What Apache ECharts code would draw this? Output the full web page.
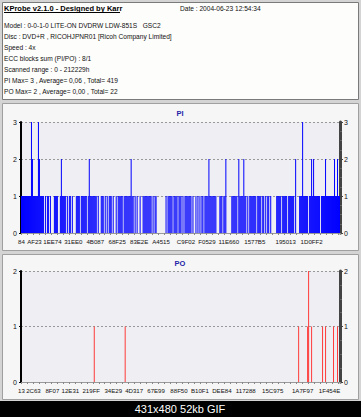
<!DOCTYPE html>
<html><head><meta charset="utf-8">
<script src="https://cdn.jsdelivr.net/npm/echarts@6/dist/echarts.min.js"></script>
<style>html,body{margin:0;padding:0;background:#d4d4d4}#c{width:361px;height:417px}</style>
</head><body><div id="c"></div><script>
// ---- data ----
const headerTitle = 'KProbe v2.1.0 - Designed by Karr';
const headerDate = 'Date : 2004-06-23 12:54:34';
const headerLines = [
  'Model : 0-0-1-0 LITE-ON DVDRW LDW-851S\u00a0\u00a0\u00a0GSC2',
  'Disc : DVD+R , RICOHJPNR01 [Ricoh Company Limited]',
  'Speed : 4x',
  'ECC blocks sum (PI/PO) : 8/1',
  'Scanned range : 0 - 212229h',
  'PI Max= 3 , Average= 0,06 , Total= 419',
  'PO Max= 2 , Average= 0,00 , Total= 22'
];
const caption = '431x480 52kb GIF';

const piValues = [
  1,1,1,1,1,1,1,1,1,1, 3,2,1,1,1,1,1,3,2,1, 1,1,1,0,1,0,1,1,0,1, 0,0,0,1,1,1,1,0,0,1,
  2,1,1,1,1,0,1,0,1,1, 0,1,0,0,0,1,1,1,1,0, 1,1,1,1,1,1,0,1,2,1, 1,1,1,1,1,1,0,1,0,0,
  1,1,1,0,1,0,1,0,1,1, 1,0,1,0,0,1,0,1,1,1, 1,1,0,1,1,1,1,1,1,1, 2,1,1,0,1,0,1,0,0,1,
  0,0,1,1,1,1,1,1,1,1, 1,0,1,0,1,1,0,0,0,0, 0,0,0,0,0,1,0,1,1,1, 1,1,0,1,1,1,1,0,1,1,
  1,0,1,0,1,1,1,1,1,1, 1,0,1,0,0,1,0,1,0,1, 0,1,1,0,1,1,1,1,2,1, 1,1,1,1,1,1,0,0,0,1,
  1,1,0,1,1,2,0,0,0,0, 0,1,1,1,1,1,1,0,2,1, 1,1,1,2,1,1,0,1,0,1, 1,1,1,1,1,1,0,1,1,1,
  1,0,1,1,0,1,0,1,1,0, 1,0,0,0,0,0,1,1,1,1, 1,0,1,1,1,1,1,0,1,1, 1,1,1,1,0,2,0,0,0,1,
  1,1,3,1,1,1,1,1,0,1, 1,2,1,2,1,1,1,1,1,1, 0,1,1,1,1,2,1,1,1,1, 1,1,1,1,2,1,1,2,1,1
];
const poValues = [
  0,0,0,0,0,0,0,0,0,0, 0,0,0,0,0,0,0,0,0,0, 0,0,0,0,0,0,0,0,0,0, 0,0,0,0,0,0,0,0,0,0,
  0,0,0,0,0,0,0,0,0,0, 0,0,0,0,0,0,0,0,0,0, 0,0,0,0,0,0,0,0,0,0, 0,0,0,1,0,0,0,0,0,0,
  0,0,0,0,0,0,0,0,0,0, 0,0,0,0,0,0,0,0,0,0, 0,0,0,0,1,0,0,0,0,0, 0,0,0,0,0,0,0,0,0,0,
  0,0,0,0,0,0,0,0,0,0, 0,0,0,0,0,0,0,0,0,0, 0,0,0,0,0,0,0,0,0,0, 0,0,0,0,0,0,0,0,0,0,
  0,0,0,0,0,0,0,0,0,0, 0,0,0,0,0,0,0,0,0,0, 0,0,0,0,0,0,0,0,0,0, 0,0,0,0,0,0,0,0,0,0,
  0,0,0,0,0,0,0,0,0,0, 0,0,0,0,0,0,0,0,0,0, 0,0,0,0,0,0,0,0,0,0, 0,0,0,0,0,0,0,0,0,0,
  0,0,0,0,0,0,0,0,0,0, 0,0,0,0,0,0,0,0,0,0, 0,0,0,0,0,0,0,0,0,0, 0,0,0,0,0,0,0,0,1,0,
  0,0,0,0,0,0,0,1,2,0, 0,1,0,0,0,0,0,0,0,0, 0,0,1,0,0,1,0,0,0,0, 0,0,0,1,0,0,0,1,0,0
];
const piTickIdx = [0,13,31,52,74,96,118,140,165,186,208,234,265,291];
const piTickLabels = ['84','AF23','1EE74','31EE0','4B087','68F25','83E2E','A4515','C9F02','F0529','11E660','1577B5','195013','1D0FF2'];
const poTickIdx = [0,12,31,49,70,92,113,135,158,179,201,225,252,282,309];
const poTickLabels = ['13','2C63','8F07','12E31','219FF','34E29','4D317','67E99','88F50','B10F1','DEE84','117288','15C975','1A7F97','1F454E'];
const piMax = 3, poMax = 2;

// ---- chart ----
const samples = piValues.map((_, i) => String(i));
const FONT = '"Liberation Sans",Arial,sans-serif';
const chart = echarts.init(document.getElementById('c'), null, {renderer: 'svg'});

function xAxisFor(gridIndex, idx, labels) {
  return {
    type: 'category', gridIndex, data: samples, boundaryGap: true,
    axisLine: {lineStyle: {color: '#9a9a9a', width: 1}},
    axisTick: {show: true, length: 2, interval: (i) => i % 6 === 0, lineStyle: {color: '#888'}},
    axisLabel: {
      interval: (i) => idx.includes(i), margin: 5, hideOverlap: false,
      formatter: (v) => { const k = idx.indexOf(Number(v)); return k >= 0 ? labels[k] : ''; },
      fontSize: 6.1, fontFamily: FONT, color: '#111'
    },
    splitLine: {show: false}
  };
}
function yLeft(gridIndex, max) {
  return {
    type: 'value', gridIndex, min: 0, max, interval: 1, position: 'left',
    axisLine: {show: true, lineStyle: {color: '#000', width: 2}},
    axisTick: {show: true, length: 2, lineStyle: {color: '#000'}},
    axisLabel: {fontSize: 7, fontFamily: FONT, color: '#111', margin: 4},
    splitLine: {show: true, lineStyle: {color: '#999', type: [2, 2], width: 1}}
  };
}
function yRight(gridIndex, max) {
  return {
    type: 'value', gridIndex, min: 0, max, interval: 1, position: 'right',
    axisLine: {show: true, lineStyle: {color: '#444', width: 3}},
    axisTick: {show: true, length: 3, lineStyle: {color: '#444'}},
    minorTick: {show: true, splitNumber: 4, length: 2, lineStyle: {color: '#666'}},
    axisLabel: {fontSize: 7, fontFamily: FONT, color: '#111', margin: 4},
    splitLine: {show: false}
  };
}

const graphics = [
  {type: 'rect', z: -10, shape: {x: 0, y: 0, width: 361, height: 401}, style: {fill: '#d4d4d4'}},
  {type: 'rect', z: -9, shape: {x: 2.5, y: 2.5, width: 356, height: 97}, style: {fill: '#fdfdfb', stroke: '#7a7a7a', lineWidth: 1}},
  {type: 'rect', z: -9, shape: {x: 2.5, y: 103.5, width: 356, height: 147}, style: {fill: '#f6f6f6', stroke: '#a0a0a0', lineWidth: 1}},
  {type: 'rect', z: -9, shape: {x: 2.5, y: 254.5, width: 356, height: 145}, style: {fill: '#f6f6f6', stroke: '#a0a0a0', lineWidth: 1}},
  {type: 'rect', z: -9, shape: {x: 0, y: 401, width: 361, height: 16}, style: {fill: '#000'}},
  {type: 'text', z: 50, x: 4, y: 8.5, style: {text: headerTitle, fontSize: 7.5, fontWeight: 'bold', fontFamily: FONT, fill: '#000', verticalAlign: 'middle'}},
  {type: 'line', z: 50, shape: {x1: 4, y1: 12.5, x2: 120, y2: 12.5}, style: {stroke: '#000', lineWidth: 1}},
  {type: 'text', z: 50, x: 180, y: 8.5, style: {text: headerDate, fontSize: 6.6, fontFamily: FONT, fill: '#111', verticalAlign: 'middle'}},
  {type: 'text', z: 50, x: 180, y: 113, style: {text: 'PI', fontSize: 7.5, fontWeight: 'bold', fontFamily: FONT, fill: '#2424a8', verticalAlign: 'middle', align: 'center'}},
  {type: 'text', z: 50, x: 180, y: 263, style: {text: 'PO', fontSize: 7.5, fontWeight: 'bold', fontFamily: FONT, fill: '#2424a8', verticalAlign: 'middle', align: 'center'}},
  {type: 'text', z: 50, x: 180, y: 409, style: {text: caption, fontSize: 11, fontFamily: FONT, fill: '#fff', verticalAlign: 'middle', align: 'center'}}
];
headerLines.forEach((t, k) => graphics.push({type: 'text', z: 50, x: 4, y: 25 + 11 * k,
  style: {text: t, fontSize: 6.6, fontFamily: FONT, fill: '#111', verticalAlign: 'middle'}}));

chart.setOption({
  animation: false,
  backgroundColor: '#d4d4d4',
  graphic: {elements: graphics},
  grid: [
    {left: 21, right: 21, top: 122, bottom: 417 - 233, show: true, backgroundColor: '#eeeef3', borderWidth: 0},
    {left: 21, right: 21, top: 271, bottom: 417 - 382, show: true, backgroundColor: '#eeeef3', borderWidth: 0}
  ],
  xAxis: [xAxisFor(0, piTickIdx, piTickLabels), xAxisFor(1, poTickIdx, poTickLabels)],
  yAxis: [yLeft(0, piMax), yRight(0, piMax), yLeft(1, poMax), yRight(1, poMax)],
  series: [
    {name: 'PI', type: 'bar', xAxisIndex: 0, yAxisIndex: 0, data: piValues, barCategoryGap: '0%', itemStyle: {color: '#0000ff'}, z: 3},
    {name: 'PO', type: 'bar', xAxisIndex: 1, yAxisIndex: 2, data: poValues, barCategoryGap: '0%', itemStyle: {color: '#ff3a3a'}, z: 3}
  ]
});
</script></body></html>
